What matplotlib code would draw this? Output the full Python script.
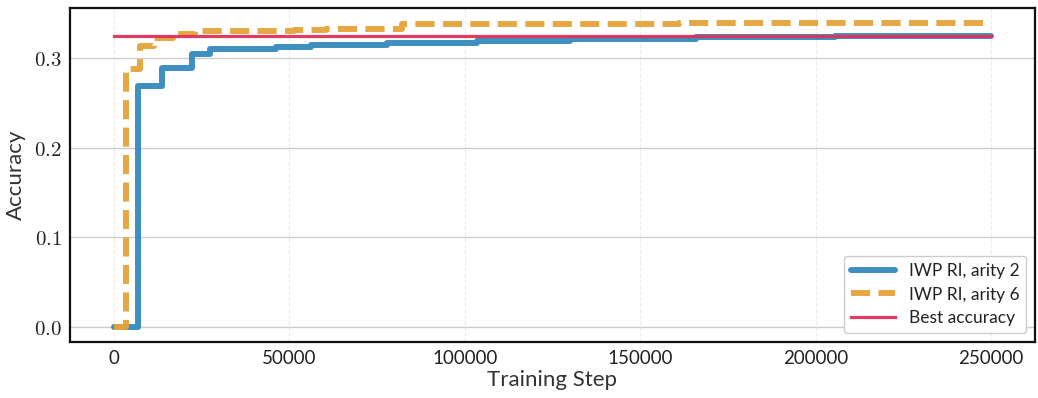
import matplotlib
matplotlib.use("Agg")
import matplotlib.pyplot as plt
from matplotlib.ticker import FuncFormatter, FixedLocator

plt.rcParams["font.family"] = ["Lato", "DejaVu Sans"]
plt.rcParams["mathtext.fontset"] = "cm"

# Step-wise best accuracy over training (change points and levels)
steps_arity2 = [0, 6800, 13600, 22200, 27300, 46300, 56300, 77800, 103400, 130100, 165900, 205400, 250000]
acc_arity2 = [0.0, 0.269, 0.289, 0.304, 0.310, 0.312, 0.315, 0.317, 0.319, 0.321, 0.323, 0.325, 0.325]

steps_arity6 = [0, 3600, 7500, 11500, 17000, 23000, 51400, 60500, 82100, 161000, 250000]
acc_arity6 = [0.0, 0.288, 0.314, 0.322, 0.327, 0.330, 0.331, 0.332, 0.338, 0.339, 0.339]

best_steps = [0, 250000]
best_acc = [0.325, 0.325]

y_ticks = [0.0, 0.1, 0.2, 0.3]
x_ticks = [0, 50000, 100000, 150000, 200000, 250000]

fig = plt.figure(figsize=(10.38, 3.98), dpi=100)
ax = fig.add_axes([0.0674, 0.1407, 0.9296, 0.8393])

ax.plot(steps_arity2, acc_arity2, drawstyle="steps-post", color="#348ABD",
        lw=4.3, alpha=0.95, solid_capstyle="round", solid_joinstyle="round",
        label="IWP RI, arity 2", zorder=3)
ax.plot(steps_arity6, acc_arity6, drawstyle="steps-post", color="#E6A33A",
        lw=4.3, alpha=0.95, dashes=(3.2, 1.4), dash_capstyle="butt",
        label="IWP RI, arity 6", zorder=4)
ax.plot(best_steps, best_acc, color="#E0305A", lw=2.3, alpha=0.95,
        label="Best accuracy", zorder=5)

ax.xaxis.set_major_locator(FixedLocator(x_ticks))
ax.yaxis.set_major_locator(FixedLocator(y_ticks))
ax.yaxis.set_major_formatter(FuncFormatter(lambda v, p: rf"${v:.1f}$"))
ax.xaxis.set_major_formatter(FuncFormatter(lambda v, p: f"{int(v)}"))
ax.tick_params(axis="both", labelsize=13.5, length=0, pad=6, colors="#222222")
for lbl in ax.get_yticklabels():
    lbl.set_fontsize(15)

ax.grid(axis="y", color="#cccccc", lw=1.0, ls="-", zorder=0)
ax.grid(axis="x", color="#ececec", lw=0.8, ls="--", zorder=0)
ax.set_axisbelow(True)

for sp in ax.spines.values():
    sp.set_color("#111111")
    sp.set_linewidth(1.6)

ax.set_xlabel("Training Step", fontsize=16, color="#333333", labelpad=2)
ax.set_ylabel("Accuracy", fontsize=16, color="#333333", labelpad=6)

leg = ax.legend(loc="lower right", fontsize=12.5, handlelength=2.5,
                frameon=True, fancybox=True, borderpad=0.4,
                labelspacing=0.45, handletextpad=0.8, borderaxespad=0.5)
leg.get_frame().set_edgecolor("#cccccc")
leg.get_frame().set_linewidth(1.0)
leg.get_frame().set_alpha(1.0)
for t in leg.get_texts():
    t.set_color("#222222")

fig.savefig("out.png", dpi=100, facecolor="white")
